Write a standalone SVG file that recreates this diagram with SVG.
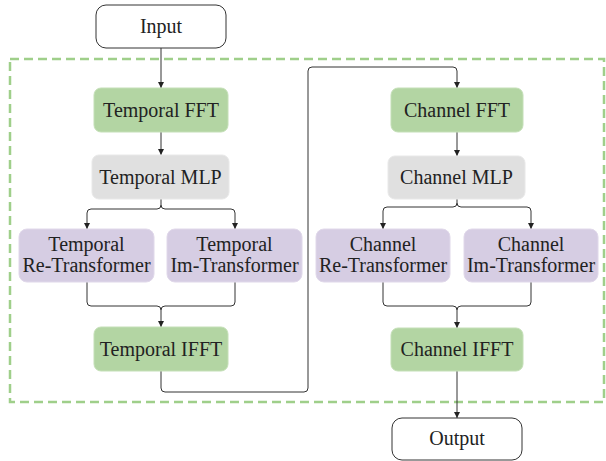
<svg xmlns="http://www.w3.org/2000/svg" width="606" height="461" viewBox="0 0 606 461">
<defs>
<marker id="ah" viewBox="0 0 8 8" refX="8" refY="4" markerWidth="6" markerHeight="6" orient="auto" markerUnits="userSpaceOnUse">
<path d="M0,0 L8,4 L0,8 z" fill="#222"/>
</marker>
<style>
text{font-family:"Liberation Serif","Times New Roman",serif;font-size:20px;fill:#222;text-anchor:middle}
.io{fill:#fff;stroke:#333;stroke-width:1}
.g{fill:#b3d5a3;stroke:#c4dfb7;stroke-width:1}
.m{fill:#e0e0e0;stroke:#e8e8e8;stroke-width:1}
.p{fill:#d6cde3;stroke:#e0d8ea;stroke-width:1}
.c{fill:none;stroke:#333;stroke-width:1}
.frame{fill:none;stroke:#9fcf8a;stroke-width:2.5;stroke-dasharray:9 5}
</style>
</defs>
<rect class="frame" x="10" y="59" width="594" height="343"/>
<g id="connectors">
<path class="c" d="M161,48 V88" marker-end="url(#ah)"/>
<path class="c" d="M161,132 V155" marker-end="url(#ah)"/>
<path class="c" d="M161,199 V205 Q161,209 157,209 H91 Q87,209 87,213 V229" marker-end="url(#ah)"/>
<path class="c" d="M161,205 Q161,209 165,209 H231 Q235,209 235,213 V229" marker-end="url(#ah)"/>
<path class="c" d="M87,282 V302 Q87,306 91,306 H157 Q161,306 161,310 V327" marker-end="url(#ah)"/>
<path class="c" d="M235,282 V302 Q235,306 231,306 H165 Q161,306 161,310"/>
<path class="c" d="M161,371 V388 Q161,392 165,392 H304 Q308,392 308,388 V71 Q308,67 312,67 H453 Q457,67 457,71 V88" marker-end="url(#ah)"/>
<path class="c" d="M457,132 V156" marker-end="url(#ah)"/>
<path class="c" d="M457,199 V203 Q457,207 453,207 H387 Q383,207 383,211 V229" marker-end="url(#ah)"/>
<path class="c" d="M457,203 Q457,207 461,207 H527 Q531,207 531,211 V229" marker-end="url(#ah)"/>
<path class="c" d="M383,282 V302 Q383,306 387,306 H453 Q457,306 457,310 V328" marker-end="url(#ah)"/>
<path class="c" d="M531,282 V302 Q531,306 527,306 H461 Q457,306 457,310"/>
<path class="c" d="M457,371 V418" marker-end="url(#ah)"/>
</g>
<g id="input"><rect class="io" x="96" y="5" width="130" height="43" rx="10"/><text x="161" y="33">Input</text></g>
<g id="temporal-fft"><rect class="g" x="94" y="88" width="134" height="44" rx="7"/><text x="161" y="117">Temporal FFT</text></g>
<g id="temporal-mlp"><rect class="m" x="92" y="155" width="137" height="44" rx="7"/><text x="160.5" y="184">Temporal MLP</text></g>
<g id="temporal-re"><rect class="p" x="19" y="229" width="135" height="53" rx="8"/><text x="86.5" y="251">Temporal</text><text x="86.5" y="272">Re-Transformer</text></g>
<g id="temporal-im"><rect class="p" x="167" y="229" width="135" height="53" rx="8"/><text x="234.5" y="251">Temporal</text><text x="234.5" y="272">Im-Transformer</text></g>
<g id="temporal-ifft"><rect class="g" x="94" y="327" width="134" height="44" rx="7"/><text x="161" y="356">Temporal IFFT</text></g>
<g id="channel-fft"><rect class="g" x="391" y="88" width="132" height="44" rx="7"/><text x="457" y="117">Channel FFT</text></g>
<g id="channel-mlp"><rect class="m" x="388" y="156" width="137" height="43" rx="7"/><text x="456.5" y="184">Channel MLP</text></g>
<g id="channel-re"><rect class="p" x="316" y="229" width="134" height="53" rx="8"/><text x="383" y="251">Channel</text><text x="383" y="272">Re-Transformer</text></g>
<g id="channel-im"><rect class="p" x="464" y="229" width="134" height="53" rx="8"/><text x="531" y="251">Channel</text><text x="531" y="272">Im-Transformer</text></g>
<g id="channel-ifft"><rect class="g" x="391" y="328" width="132" height="43" rx="7"/><text x="457" y="356">Channel IFFT</text></g>
<g id="output"><rect class="io" x="392" y="418" width="130" height="42" rx="10"/><text x="457" y="445">Output</text></g>
</svg>
